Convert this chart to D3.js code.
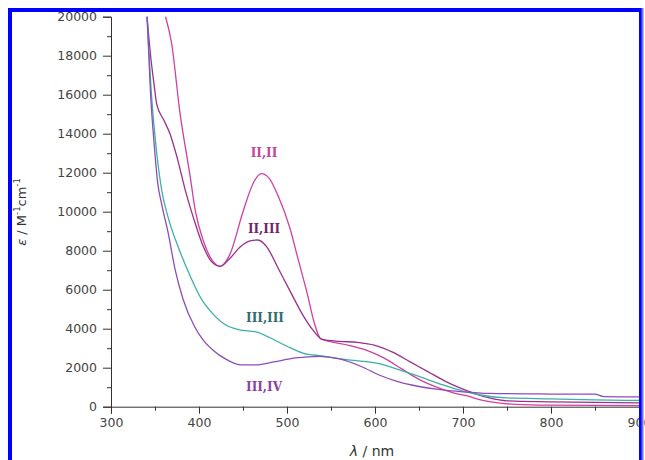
<!DOCTYPE html>
<html><head><meta charset="utf-8">
<script src="https://cdn.jsdelivr.net/npm/d3@7"></script>
<style>body{margin:0;background:#fff}svg{display:block}</style>
</head><body>
<svg id="c" width="645" height="460"></svg>
<script>
const xTicks = [300,400,500,600,700,800,900];
const yTicks = [0,2000,4000,6000,8000,10000,12000,14000,16000,18000,20000];
const seriesNames = ["II,II","II,III","III,III","III,IV"];
const s_II_II = [[362,20000],[369,18600],[378,15200],[390,11800],[396,10000],[405,8500],[415,7500],[424,7200],[435,7800],[450,10000],[462,11500],[471,11950],[480,11700],[490,10800],[503,9200],[513,7500],[523,5800],[531,4300],[538,3500],[548,3350],[570,3150],[590,2900],[610,2500],[630,1950],[650,1400],[670,1000],[690,700],[705,550],[720,350],[740,200],[760,120],[800,80],[900,60]];
const s_II_III = [[341,20000],[345,18000],[349,16500],[352,15500],[360,14700],[367,14000],[375,12800],[385,11000],[395,9500],[405,8200],[415,7400],[424,7200],[435,7600],[447,8200],[458,8500],[467,8550],[477,8200],[490,7100],[505,5800],[518,4700],[530,3900],[540,3450],[560,3350],[580,3300],[600,3150],[620,2800],[640,2300],[660,1800],[680,1300],[700,900],[715,650],[730,450],[750,300],[800,250],[900,200]];
const s_III_III = [[341,20000],[346,16000],[352,13000],[358,11000],[365,9700],[378,8000],[390,6700],[403,5500],[415,4800],[430,4200],[445,3950],[466,3820],[480,3550],[500,3100],[518,2750],[540,2600],[570,2400],[606,2200],[630,1850],[650,1550],[675,1150],[700,800],[720,600],[750,450],[800,400],[850,350],[900,320]];
const s_III_IV = [[341,20000],[345,16000],[349,13500],[353,11500],[358,10300],[365,8900],[373,7000],[382,5500],[395,4100],[405,3400],[416,2900],[430,2450],[447,2150],[465,2150],[485,2300],[510,2500],[537,2580],[560,2450],[585,2050],[606,1600],[625,1300],[643,1100],[670,900],[700,760],[730,680],[800,650],[850,640],[860,520],[900,500]];
const seriesData = [s_II_II, s_II_III, s_III_III, s_III_IV];
const lineColors = ["#d03fa3","#9a2f8e","#3cb0a6","#8e4cb6"];
const labelColors = ["#c2449c","#74246c","#2d6d6d","#8a3fa8"];
const labelPos = [[264,157],[264,233],[265,322],[264,391]];

const svg = d3.select("#c");
const x = d3.scaleLinear().domain([300,900]).range([111,639]);
const y = d3.scaleLinear().domain([0,20000]).range([406.7,16.7]);

const tickFont = "'DejaVu Sans', Verdana, sans-serif";
const g = svg.append("g");
const line = d3.line().x(d=>x(d[0])).y(d=>y(d[1])).curve(d3.curveMonotoneX);
seriesData.forEach((s,i)=>{
  g.append("path").datum(s).attr("d",line).attr("fill","none")
   .attr("stroke",lineColors[i]).attr("stroke-width",1.3);
});

const axColor="#333";
const xAxis = d3.axisBottom(x).tickValues(xTicks).tickSize(7).tickFormat(d3.format("d"));
const xMinor = d3.axisBottom(x).tickValues(d3.range(350,900,100)).tickSize(4).tickFormat("");
const yAxis = d3.axisLeft(y).tickValues(yTicks).tickSize(8).tickFormat(d3.format("d"));
const yMinor = d3.axisLeft(y).tickValues(d3.range(1000,20000,2000)).tickSize(4).tickFormat("");
function style(sel){
  sel.select(".domain").attr("stroke",axColor);
  sel.selectAll(".tick line").attr("stroke",axColor);
  sel.selectAll(".tick text").attr("fill","#444").attr("font-family",tickFont).attr("font-size",12.5);
}
const gx = svg.append("g").attr("transform","translate(0,406.7)").call(xAxis); style(gx);
gx.selectAll(".tick text").attr("dy","0.85em");
const gxm = svg.append("g").attr("transform","translate(0,406.7)").call(xMinor); style(gxm); gxm.select(".domain").remove();
const gy = svg.append("g").attr("transform","translate(111,0)").call(yAxis); style(gy);
gy.selectAll(".tick text").attr("x",-14);
const gym = svg.append("g").attr("transform","translate(111,0)").call(yMinor); style(gym); gym.select(".domain").remove();

seriesNames.forEach((n,i)=>{
  svg.append("text").attr("x",labelPos[i][0]).attr("y",labelPos[i][1]).attr("text-anchor","middle")
   .attr("font-family","'DejaVu Serif', 'Liberation Serif', serif").attr("font-weight","bold").attr("font-size",12)
   .attr("fill",labelColors[i]).text(n);
});

svg.append("text").attr("x",372).attr("y",456).attr("text-anchor","middle")
  .attr("font-family",tickFont).attr("font-size",14).attr("fill","#333")
  .html('<tspan font-style="italic">λ</tspan> / nm');
const yt = svg.append("text").attr("transform","translate(26,212) rotate(-90)").attr("text-anchor","middle")
  .attr("font-family",tickFont).attr("font-size",13).attr("fill","#333");
yt.append("tspan").attr("font-style","italic").text("ε");
yt.append("tspan").text(" / M");
yt.append("tspan").attr("font-size",8.5).attr("dy",-6).text("-1");
yt.append("tspan").attr("dy",6).text("cm");
yt.append("tspan").attr("font-size",8.5).attr("dy",-6).text("-1");

svg.append("rect").attr("x",10).attr("y",10).attr("width",631).attr("height",470)
  .attr("fill","none").attr("stroke","#0000ff").attr("stroke-width",4);
svg.append("line").attr("x1",642.5).attr("x2",642.5).attr("y1",8).attr("y2",460).attr("stroke","#6f6ff5").attr("stroke-width",2);
</script>
</body></html>
